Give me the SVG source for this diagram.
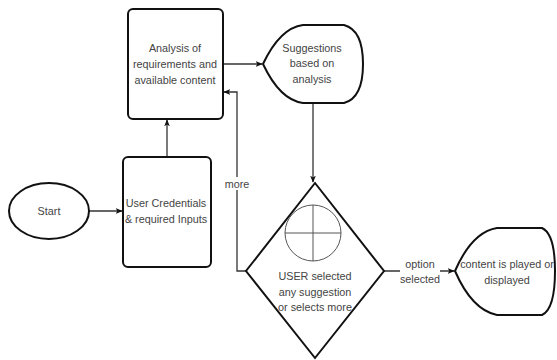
<svg xmlns="http://www.w3.org/2000/svg" width="557" height="360" viewBox="0 0 557 360">
<defs>
<style>
.shape{fill:#fff;stroke:#111;stroke-width:2}
.conn{fill:none;stroke:#333;stroke-width:1.3}
.t{font-family:"Liberation Sans",Arial,sans-serif;font-size:10.8px;fill:#444;text-anchor:middle}
.sym{fill:none;stroke:#555;stroke-width:1}
</style>
<marker id="arr" viewBox="0 0 10 10" refX="9" refY="5" markerWidth="7" markerHeight="7" orient="auto" markerUnits="userSpaceOnUse">
<path d="M0,1 L10,5 L0,9 L2.5,5 Z" fill="#111"/>
</marker>
</defs>
<rect width="557" height="360" fill="#fff"/>
<g id="connectors">
<path class="conn" d="M89,211 L122,211" marker-end="url(#arr)"/>
<path class="conn" d="M167,157 L167,120" marker-end="url(#arr)"/>
<path class="conn" d="M224,64 L262,64" marker-end="url(#arr)"/>
<path class="conn" d="M313,103 L313,182" marker-end="url(#arr)"/>
<path class="conn" d="M246,271 L237,271 L237,92 L224,92" marker-end="url(#arr)"/>
<path class="conn" d="M384,271 L454,271" marker-end="url(#arr)"/>
<rect x="224" y="177" width="26" height="13" fill="#fff"/>
<text class="t" x="237" y="188">more</text>
<rect x="400" y="255" width="40" height="29" fill="#fff"/>
<text class="t" x="420" y="268">option</text>
<text class="t" x="420" y="283">selected</text>
</g>
<g id="start">
<ellipse class="shape" cx="49" cy="211" rx="40" ry="28"/>
<text class="t" x="49" y="215">Start</text>
</g>
<g id="credentials">
<rect class="shape" x="123" y="157" width="88" height="110" rx="5"/>
<text class="t" x="166" y="207">User Credentials</text>
<text class="t" x="166" y="223">&amp; required Inputs</text>
</g>
<g id="analysis">
<rect class="shape" x="128" y="9" width="95" height="110" rx="5"/>
<text class="t" x="175" y="52">Analysis of</text>
<text class="t" x="175" y="68">requirements and</text>
<text class="t" x="175" y="84">available content</text>
</g>
<g id="suggestions">
<path class="shape" d="M263,64 Q280,28 303,25 L344,25 Q363,30 363,64 Q363,98 344,103 L303,103 Q280,100 263,64 Z"/>
<text class="t" x="312" y="52">Suggestions</text>
<text class="t" x="312" y="67">based on</text>
<text class="t" x="312" y="83">analysis</text>
</g>
<g id="decision">
<path class="shape" d="M315,183 L384,271 L315,358 L246,271 Z"/>
<circle class="sym" cx="313" cy="233" r="28"/>
<path class="sym" d="M285,233 L341,233 M313,205 L313,261"/>
<text class="t" x="315" y="280">USER selected</text>
<text class="t" x="315" y="296">any suggestion</text>
<text class="t" x="315" y="311">or selects more</text>
</g>
<g id="content">
<path class="shape" d="M455,271 Q472,232 497,228 L542,228 Q555,234 555,271 Q555,309 542,315 L497,315 Q472,310 455,271 Z"/>
<text class="t" x="507" y="268">content is played or</text>
<text class="t" x="507" y="284">displayed</text>
</g>
</svg>
